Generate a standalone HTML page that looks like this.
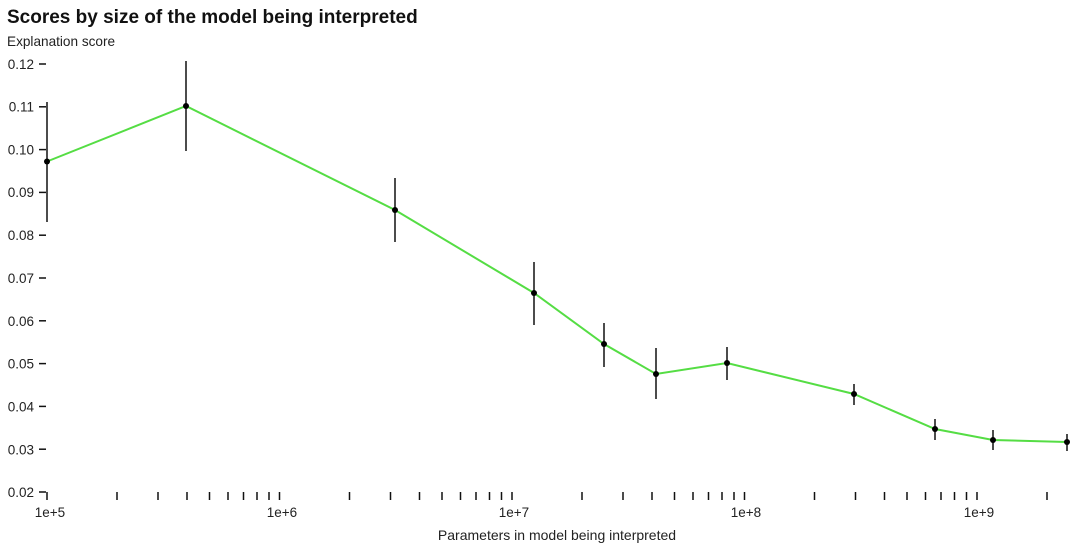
<!DOCTYPE html>
<html><head><meta charset="utf-8"><style>
body{margin:0;background:#fff;}
svg{display:block;font-family:"Liberation Sans",Arial,sans-serif;}
</style></head><body>
<svg width="1080" height="549" viewBox="0 0 1080 549">
<text x="7" y="23" font-size="19" font-weight="bold" fill="#111">Scores by size of the model being interpreted</text>
<text x="7" y="46" font-size="13.6" fill="#222">Explanation score</text>
<g font-size="13.5" fill="#222" text-anchor="end">
<text x="34" y="69">0.12</text><text x="34" y="111.5">0.11</text><text x="34" y="154.5">0.10</text>
<text x="34" y="197">0.09</text><text x="34" y="240">0.08</text><text x="34" y="283">0.07</text>
<text x="34" y="326">0.06</text><text x="34" y="368.5">0.05</text><text x="34" y="411.5">0.04</text>
<text x="34" y="454.5">0.03</text><text x="34" y="497">0.02</text>
</g>
<g stroke="#111" stroke-width="1.5">
<line x1="39" x2="46" y1="64" y2="64"/><line x1="39" x2="46" y1="106.8" y2="106.8"/><line x1="39" x2="46" y1="149.6" y2="149.6"/>
<line x1="39" x2="46" y1="192.4" y2="192.4"/><line x1="39" x2="46" y1="235.2" y2="235.2"/><line x1="39" x2="46" y1="278" y2="278"/>
<line x1="39" x2="46" y1="320.8" y2="320.8"/><line x1="39" x2="46" y1="363.6" y2="363.6"/><line x1="39" x2="46" y1="406.4" y2="406.4"/>
<line x1="39" x2="46" y1="449.2" y2="449.2"/><line x1="39" x2="46" y1="492" y2="492"/>
</g>
<g stroke="#111" stroke-width="1.5">
<path d="M47 492v8M117 492v8M158 492v8M187 492v8M209.5 492v8M228 492v8M243.5 492v8M257 492v8M269 492v8M279.5 492v8
M349.5 492v8M390.5 492v8M419.5 492v8M442 492v8M460.5 492v8M476 492v8M489.5 492v8M501.5 492v8M512 492v8
M582 492v8M623 492v8M652 492v8M674.5 492v8M693 492v8M708.5 492v8M722 492v8M734 492v8M744.5 492v8
M814.5 492v8M855.5 492v8M884.5 492v8M907 492v8M925.5 492v8M941 492v8M954.5 492v8M966.5 492v8M977 492v8M1047 492v8"/>
</g>
<g font-size="13.5" fill="#222" text-anchor="middle">
<text x="50" y="517">1e+5</text><text x="282" y="517">1e+6</text><text x="514" y="517">1e+7</text>
<text x="746" y="517">1e+8</text><text x="979" y="517">1e+9</text>
<text x="557" y="540" font-size="14">Parameters in model being interpreted</text>
</g>
<polyline fill="none" stroke="#55dd44" stroke-width="2" points="47,161.5 186,106 395,210 534,293 604,344 656,374 727,363 854,394 935,429 993,440 1067,442"/>
<g stroke="#111" stroke-width="1.5">
<line x1="47" x2="47" y1="102" y2="222"/><line x1="186" x2="186" y1="61" y2="151"/>
<line x1="395" x2="395" y1="178" y2="242"/><line x1="534" x2="534" y1="262" y2="325"/>
<line x1="604" x2="604" y1="323" y2="367"/><line x1="656" x2="656" y1="348" y2="399"/>
<line x1="727" x2="727" y1="347" y2="380"/><line x1="854" x2="854" y1="384" y2="405"/>
<line x1="935" x2="935" y1="419" y2="440"/><line x1="993" x2="993" y1="430" y2="450"/>
<line x1="1067" x2="1067" y1="434" y2="451"/>
</g>
<g fill="#000">
<circle cx="47" cy="161.5" r="3"/><circle cx="186" cy="106" r="3"/><circle cx="395" cy="210" r="3"/>
<circle cx="534" cy="293" r="3"/><circle cx="604" cy="344" r="3"/><circle cx="656" cy="374" r="3"/>
<circle cx="727" cy="363" r="3"/><circle cx="854" cy="394" r="3"/><circle cx="935" cy="429" r="3"/>
<circle cx="993" cy="440" r="3"/><circle cx="1067" cy="442" r="3"/>
</g>
</svg>
</body></html>
